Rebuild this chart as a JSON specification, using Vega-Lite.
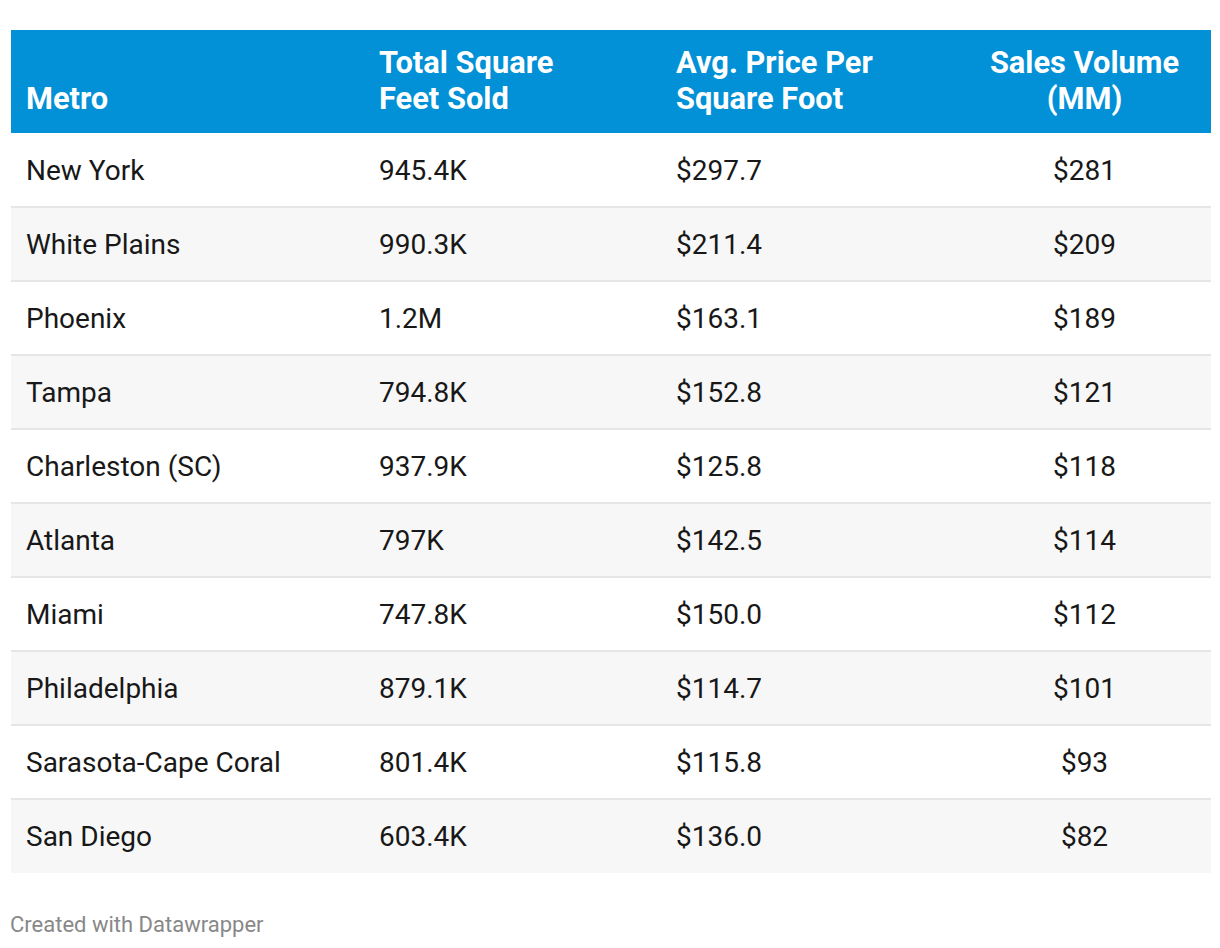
{
  "$schema": "https://vega.github.io/schema/vega-lite/v6.json",
  "background": "#ffffff",
  "padding": {"left": 10, "top": 30, "right": 10, "bottom": 6},
  "spacing": 0,
  "title": {"text": "Created with Datawrapper", "orient": "bottom", "anchor": "start", "font": "Roboto", "fontSize": 22, "fontWeight": "normal", "color": "#888888", "offset": 42},
  "datasets": {
    "metros": [
      {"rank": 1, "Metro": "New York", "sqft": "945.4K", "price": 297.7, "volume": 281},
      {"rank": 2, "Metro": "White Plains", "sqft": "990.3K", "price": 211.4, "volume": 209},
      {"rank": 3, "Metro": "Phoenix", "sqft": "1.2M", "price": 163.1, "volume": 189},
      {"rank": 4, "Metro": "Tampa", "sqft": "794.8K", "price": 152.8, "volume": 121},
      {"rank": 5, "Metro": "Charleston (SC)", "sqft": "937.9K", "price": 125.8, "volume": 118},
      {"rank": 6, "Metro": "Atlanta", "sqft": "797K", "price": 142.5, "volume": 114},
      {"rank": 7, "Metro": "Miami", "sqft": "747.8K", "price": 150.0, "volume": 112},
      {"rank": 8, "Metro": "Philadelphia", "sqft": "879.1K", "price": 114.7, "volume": 101},
      {"rank": 9, "Metro": "Sarasota-Cape Coral", "sqft": "801.4K", "price": 115.8, "volume": 93},
      {"rank": 10, "Metro": "San Diego", "sqft": "603.4K", "price": 136.0, "volume": 82}
    ],
    "header": [
      {"col": 1, "line": 2, "label": "Metro"},
      {"col": 2, "line": 1, "label": "Total Square"},
      {"col": 2, "line": 2, "label": "Feet Sold"},
      {"col": 3, "line": 1, "label": "Avg. Price Per"},
      {"col": 3, "line": 2, "label": "Square Foot"},
      {"col": 4, "line": 1, "label": "Sales Volume"},
      {"col": 4, "line": 2, "label": "(MM)"}
    ]
  },
  "vconcat": [
    {
      "width": 1200,
      "height": 103,
      "view": {"fill": "#0290d6", "stroke": null},
      "data": {"name": "header"},
      "layer": [
        {
          "transform": [{"filter": "datum.col < 4"}],
          "mark": {"type": "text", "align": "left", "baseline": "alphabetic", "font": "Roboto", "fontWeight": "bold", "fontSize": 30.8, "color": "#ffffff"},
          "encoding": {
            "x": {"field": "col", "type": "quantitative", "axis": null, "scale": {"domain": [1, 2, 3, 4], "range": [15, 368, 665, 1073.5], "nice": false, "zero": false}},
            "y": {"field": "line", "type": "ordinal", "axis": null, "scale": {"type": "band", "domain": [1, 2], "paddingInner": 0, "paddingOuter": 0.4306, "align": 0.8}},
            "text": {"field": "label"}
          }
        },
        {
          "transform": [{"filter": "datum.col == 4"}],
          "mark": {"type": "text", "align": "center", "baseline": "alphabetic", "font": "Roboto", "fontWeight": "bold", "fontSize": 30.8, "color": "#ffffff"},
          "encoding": {
            "x": {"field": "col", "type": "quantitative", "axis": null},
            "y": {"field": "line", "type": "ordinal", "axis": null},
            "text": {"field": "label"}
          }
        }
      ]
    },
    {
      "width": 1200,
      "height": 740,
      "data": {"name": "metros"},
      "encoding": {
        "y": {"field": "Metro", "type": "nominal", "sort": null, "axis": null, "scale": {"paddingInner": 0, "paddingOuter": 0}}
      },
      "layer": [
        {
          "mark": {"type": "rect"},
          "encoding": {
            "fill": {"condition": {"test": "datum.rank % 2 == 0", "value": "#f7f7f7"}, "value": "#ffffff"}
          }
        },
        {
          "transform": [{"filter": "datum.rank > 1"}],
          "mark": {"type": "rule", "color": "#e6e6e6", "strokeWidth": 2},
          "encoding": {
            "y": {"field": "Metro", "type": "nominal", "sort": null, "bandPosition": 0}
          }
        },
        {
          "mark": {"type": "text", "align": "left", "baseline": "alphabetic", "font": "Roboto", "fontSize": 28, "color": "#181818"},
          "encoding": {
            "x": {"datum": 1, "type": "quantitative", "axis": null, "scale": {"domain": [1, 2, 3, 4], "range": [15, 368, 665, 1073.5], "nice": false, "zero": false}},
            "y": {"field": "Metro", "type": "nominal", "sort": null, "bandPosition": 0.63},
            "text": {"field": "Metro"}
          }
        },
        {
          "mark": {"type": "text", "align": "left", "baseline": "alphabetic", "font": "Roboto", "fontSize": 28, "color": "#181818"},
          "encoding": {
            "x": {"datum": 2, "type": "quantitative"},
            "y": {"field": "Metro", "type": "nominal", "sort": null, "bandPosition": 0.63},
            "text": {"field": "sqft"}
          }
        },
        {
          "mark": {"type": "text", "align": "left", "baseline": "alphabetic", "font": "Roboto", "fontSize": 28, "color": "#181818"},
          "encoding": {
            "x": {"datum": 3, "type": "quantitative"},
            "y": {"field": "Metro", "type": "nominal", "sort": null, "bandPosition": 0.63},
            "text": {"field": "price", "type": "quantitative", "format": "$.1f"}
          }
        },
        {
          "mark": {"type": "text", "align": "center", "baseline": "alphabetic", "font": "Roboto", "fontSize": 28, "color": "#181818"},
          "encoding": {
            "x": {"datum": 4, "type": "quantitative"},
            "y": {"field": "Metro", "type": "nominal", "sort": null, "bandPosition": 0.63},
            "text": {"field": "volume", "type": "quantitative", "format": "$d"}
          }
        }
      ]
    }
  ],
  "config": {
    "view": {"stroke": null},
    "font": "Roboto"
  }
}
